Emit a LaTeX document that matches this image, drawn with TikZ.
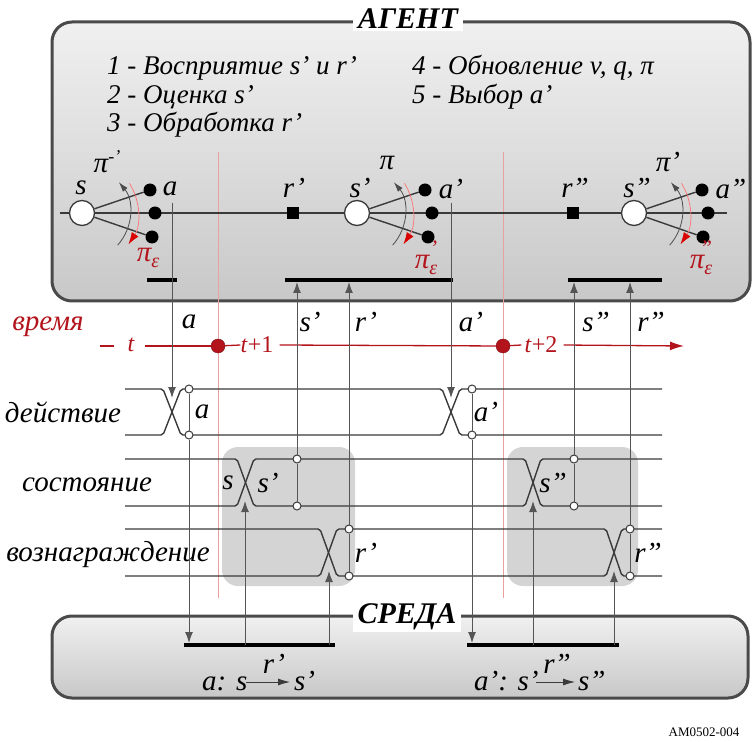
\documentclass[tikz,border=0pt]{standalone}
\usepackage{fontspec}
\setmainfont{Liberation Serif}
\usetikzlibrary{arrows.meta,calc}
\definecolor{ln}{HTML}{3A3A3A}
\definecolor{vl}{HTML}{555555}
\definecolor{tred}{HTML}{B3141C}
\definecolor{pred}{HTML}{E8A0A0}
\definecolor{boxline}{HTML}{4A4A4A}
\definecolor{ptop}{HTML}{F0F0F0}
\definecolor{pbot}{HTML}{C8C8C8}
\definecolor{shd}{HTML}{D4D4D4}
\newcommand\fs[1]{\fontsize{#1}{#1}\selectfont}
\newcommand\pieps[1]{π\raisebox{-6pt}{\fs{20}ε}\llap{\raisebox{13pt}{\fs{22}#1}}}
\newcommand\polarcs[1]{%
  \draw[draw=gray!60!black, line width=0.8pt, -{Latex[length=10pt,width=6pt]}]
    ($(#1)+(42:48)$) arc[start angle=42,end angle=-40,radius=48];
  \draw[draw=red!55, line width=0.7pt, -{Latex[length=12pt,width=8pt,color=red!85!black]}]
    ($(#1)+(-32:56)$) arc[start angle=-32,end angle=34,radius=56];}
\begin{document}
\begin{tikzpicture}[x=1pt,y=-1pt,
  every node/.style={inner sep=0pt, font=\itshape\fs{29}},
  txt/.style={anchor=west, font=\itshape\fs{27}},
  title/.style={font=\bfseries\itshape\fs{30}, fill=white, inner xsep=5pt, inner ysep=2pt},
  panel/.style={draw=boxline, line width=3pt, rounded corners=20pt, top color=ptop, bottom color=pbot},
  vline/.style={draw=vl, line width=1pt},
  arr/.style={vline, -{Latex[length=11pt,width=8pt]}},
  bar/.style={draw=black, line width=4pt},
  sig/.style={draw=ln, line width=1.4pt, rounded corners=2pt},
  tap/.style={circle, draw=ln, fill=white, minimum size=8pt, line width=1pt},
  stc/.style={circle, draw=ln, fill=white, minimum size=25pt, line width=1.3pt},
  dot/.style={circle, fill=black, minimum size=13pt},
  rsq/.style={fill=black, minimum size=12pt},
  shadebox/.style={fill=shd, rounded corners=16pt},
  redline/.style={draw=pred, line width=1pt},
  tdot/.style={circle, fill=tred, draw=tred!70!black, minimum size=14pt},
  tl/.style={draw=ln, line width=1.4pt},
  redtxt/.style={text=tred},
  taxis/.style={draw=tred, line width=1.3pt},
]
\useasboundingbox (0,0) rectangle (755,743);

% panels
\path[panel] (52,22) rectangle (750,301);
\node[title] (agent) at (408,19) {АГЕНТ};
\path[panel] (52,616) rectangle (748,698);
\node[title] (env) at (407,617) {СРЕДА};

% shaded groups and red time marks
\path[shadebox] (222,447) rectangle (355,586);
\path[shadebox] (507,447) rectangle (638,586);
\coordinate (rl1a) at (218,152); \coordinate (rl1b) at (218,598);
\coordinate (rl2a) at (503,152); \coordinate (rl2b) at (503,598);
\draw[redline] (rl1a) -- (rl1b);
\draw[redline] (rl2a) -- (rl2b);

% agent texts
\node[txt] (t1) at (107,68) {1 - Восприятие s' и r'};
\node[txt] (t2) at (107,97) {2 - Оценка s'};
\node[txt] (t3) at (107,125) {3 - Обработка r'};
\node[txt] (t4) at (412,68) {4 - Обновление v, q, π};
\node[txt] (t5) at (412,97) {5 - Выбор a'};

% agent time line
\coordinate (tl0) at (60,213); \coordinate (tl1) at (727,213);
\draw[tl] (tl0) -- (tl1);

\node[stc] (S0) at (82,213) {};
\node[dot] (S0a) at (150,190) {};
\node[dot] (S0b) at (155,213) {};
\node[dot] (S0c) at (152,237) {};
\draw[tl] (S0) -- (S0a); \draw[tl] (S0) -- (S0c);
\polarcs{S0}

\node[rsq] (R1) at (293,213) {};
\node[stc] (S1) at (357,213) {};
\node[dot] (S1a) at (425,190) {};
\node[dot] (S1b) at (432,213) {};
\node[dot] (S1c) at (428,237) {};
\draw[tl] (S1) -- (S1a); \draw[tl] (S1) -- (S1c);
\polarcs{S1}

\node[rsq] (R2) at (573,213) {};
\node[stc] (S2) at (634,213) {};
\node[dot] (S2a) at (702,190) {};
\node[dot] (S2b) at (708,213) {};
\node[dot] (S2c) at (703,237) {};
\draw[tl] (S2) -- (S2a); \draw[tl] (S2) -- (S2c);
\polarcs{S2}

% agent labels
\node (lS0) at (81,188) {s};
\node (la) at (170,189) {a};
\node (lpi0) at (107,162) {π\raisebox{10pt}{\fs{18}-'}};
\node[redtxt] (lpe0) at (148,258) {\pieps{}};
\node (lr1) at (294,188) {r'};
\node (lS1) at (360,188) {s'};
\node (lpi1) at (387,163) {π};
\node (la1) at (451,189) {a'};
\node[redtxt] (lpe1) at (426,258) {\pieps{'}};
\node (lr2) at (575,188) {r''};
\node (lS2) at (637,188) {s''};
\node (lpi2) at (668,162) {π'};
\node (la2) at (731,189) {a''};
\node[redtxt] (lpe2) at (701,258) {\pieps{''}};

% agent bars
\coordinate (b1a) at (147,280); \coordinate (b1b) at (177,280);
\coordinate (b2a) at (285,280); \coordinate (b2b) at (453,280);
\coordinate (b3a) at (568,280); \coordinate (b3b) at (662,280);
\draw[bar] (b1a) -- (b1b);
\draw[bar] (b2a) -- (b2b);
\draw[bar] (b3a) -- (b3b);

% environment bars
\coordinate (e1a) at (184,645); \coordinate (e1b) at (335,645);
\coordinate (e2a) at (467,645); \coordinate (e2b) at (619,645);
\draw[bar] (e1a) -- (e1b);
\draw[bar] (e2a) -- (e2b);

% time axis
\node[redtxt] (time) at (48,327) {время};
\coordinate (ta0) at (100,346); \coordinate (ta1) at (114,346);
\draw[taxis] (ta0) -- (ta1);
\node[redtxt, font=\itshape\fs{24}] (tt) at (131,345) {t};
\node[tdot] (td1) at (218,346) {};
\node[tdot] (td2) at (503,346) {};
\coordinate (ta2) at (145,346);
\draw[taxis] (ta2) -- (td1);
\node[redtxt, font=\fs{24}] (tt1) at (257,345) {\textit{t}+1};
\draw[taxis] (td1) -- (tt1.west);
\draw[taxis] ([xshift=6pt]tt1.east) -- (td2);
\node[redtxt, font=\fs{24}] (tt2) at (541,345) {\textit{t}+2};
\draw[taxis] (td2) -- ([xshift=-3pt]tt2.west);
\coordinate (taEnd) at (684,346);
\draw[taxis, -{Latex[length=14pt,width=9pt]}] ([xshift=6pt]tt2.east) -- (taEnd);

% labels above time axis
\node (va) at (189,322) {a};
\node (vs1) at (310,322) {s'};
\node (vr1) at (366,322) {r'};
\node (va1) at (471,322) {a'};
\node (vs2) at (596,322) {s''};
\node (vr2) at (651,322) {r''};

% row labels
\node (rowA) at (63,412) {действие};
\node (rowS) at (87,485) {состояние};
\node (rowR) at (108,555) {вознаграждение};

% signal lines
\draw[sig] (125,389) -- (163,389) -- (181,435) -- (442,435) -- (460,389) -- (662,389);
\draw[sig] (125,435) -- (163,435) -- (181,389) -- (442,389) -- (460,435) -- (662,435);
\draw[sig] (125,459) -- (237,459) -- (254,506) -- (525,506) -- (541,459) -- (662,459);
\draw[sig] (125,506) -- (237,506) -- (254,459) -- (525,459) -- (541,506) -- (662,506);
\draw[sig] (125,529) -- (320,529) -- (337,576) -- (606,576) -- (622,529) -- (662,529);
\draw[sig] (125,576) -- (320,576) -- (337,529) -- (606,529) -- (622,576) -- (662,576);

% signal labels
\node (sa) at (202,412) {a};
\node (sa1) at (486,412) {a'};
\node (ss0) at (228,483) {s};
\node (ss1) at (268,483) {s'};
\node (ss2) at (553,483) {s''};
\node (sr1) at (366,553) {r'};
\node (sr2) at (648,553) {r''};

% taps
\node[tap] (tA1t) at (189,389) {}; \node[tap] (tA1b) at (189,435) {};
\node[tap] (tA2t) at (472,389) {}; \node[tap] (tA2b) at (472,435) {};
\node[tap] (tS1t) at (297,459) {}; \node[tap] (tS1b) at (297,506) {};
\node[tap] (tS2t) at (574,459) {}; \node[tap] (tS2b) at (574,506) {};
\node[tap] (tR1t) at (349,529) {}; \node[tap] (tR1b) at (349,576) {};
\node[tap] (tR2t) at (630,529) {}; \node[tap] (tR2b) at (630,576) {};

% agent -> action
\coordinate (aTop1) at (172,203); \coordinate (xA1) at (172,398);
\coordinate (aTop2) at (451,203); \coordinate (xA2) at (451,398);
\draw[arr] (aTop1) -- (xA1);
\draw[arr] (aTop2) -- (xA2);

% taps -> agent
\coordinate (bS1) at (297,282); \coordinate (bR1) at (349,282);
\coordinate (bS2) at (574,282); \coordinate (bR2) at (630,282);
\draw[vline] (tS1b) -- (tS1t); \draw[arr] (tS1t) -- (bS1);
\draw[vline] (tR1b) -- (tR1t); \draw[arr] (tR1t) -- (bR1);
\draw[vline] (tS2b) -- (tS2t); \draw[arr] (tS2t) -- (bS2);
\draw[vline] (tR2b) -- (tR2t); \draw[arr] (tR2t) -- (bR2);

% action -> environment
\coordinate (eA1) at (189,643); \coordinate (eA2) at (472,643);
\draw[vline] (tA1t) -- (tA1b); \draw[arr] (tA1b) -- (eA1);
\draw[vline] (tA2t) -- (tA2b); \draw[arr] (tA2b) -- (eA2);

% environment -> state / reward
\coordinate (eS1) at (245,645); \coordinate (xS1) at (245,501);
\coordinate (eR1) at (329,645); \coordinate (xR1) at (329,571);
\coordinate (eS2) at (533,645); \coordinate (xS2) at (533,501);
\coordinate (eR2) at (614,645); \coordinate (xR2) at (614,571);
\draw[arr] (eS1) -- (xS1);
\draw[arr] (eR1) -- (xR1);
\draw[arr] (eS2) -- (xS2);
\draw[arr] (eR2) -- (xR2);

% transition formulas
\node[anchor=base west] (f1a) at (202,690) {a: s};
\node[anchor=base west] (f1b) at (294,690) {s'};
\coordinate (f1p) at (246,682); \coordinate (f1q) at (290,682);
\draw[draw=ln, line width=0.8pt, -{Latex[length=12pt,width=7pt]}] (f1p) -- (f1q);
\node (f1r) at (274,664) {r'};
\node[anchor=base west] (f2a) at (474,690) {a': s'};
\node[anchor=base west] (f2b) at (578,690) {s''};
\coordinate (f2p) at (536,682); \coordinate (f2q) at (575,682);
\draw[draw=ln, line width=0.8pt, -{Latex[length=12pt,width=7pt]}] (f2p) -- (f2q);
\node (f2r) at (557,664) {r''};

\node[font=\upshape\fs{13}] (code) at (704,732) {AM0502-004};
\end{tikzpicture}
\end{document}
